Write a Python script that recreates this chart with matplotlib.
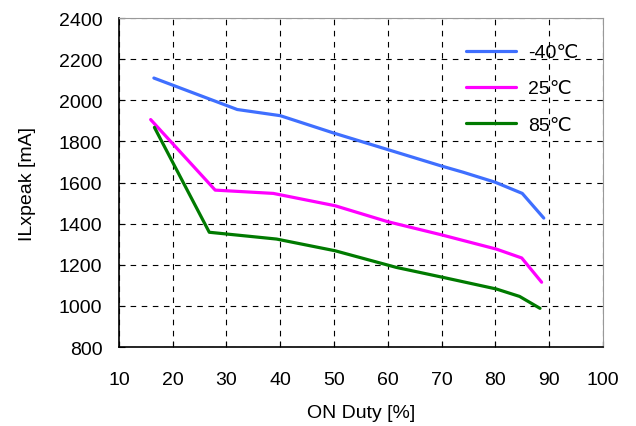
import matplotlib
matplotlib.use("Agg")
import matplotlib.pyplot as plt

plt.rcParams['font.family'] = ['Liberation Sans', 'DejaVu Sans']

# data
duty_m40 = [16.5, 32, 40, 50, 60, 70, 74, 80, 85, 89]
ilx_m40 = [2108, 1955, 1925, 1840, 1760, 1680, 1650, 1601, 1547, 1427]

duty_25 = [15.9, 27.9, 38.7, 50.2, 59.9, 69.9, 80.2, 84.9, 88.6]
ilx_25 = [1906, 1563, 1547, 1487, 1410, 1346, 1276, 1233, 1115]

duty_85 = [16.6, 26.8, 39.3, 50.2, 61.6, 70.2, 80.2, 84.5, 88.3]
ilx_85 = [1868, 1358, 1325, 1268, 1187, 1139, 1082, 1046, 988]

labels = ['-40℃', '25℃', '85℃']
colors = ['#3f6fff', '#ff00ff', '#007a00']

fig = plt.figure(figsize=(6.36, 4.27), dpi=100)
ax = fig.add_axes([0.187, 0.185, 0.761, 0.7705])

for xs, ys, lab, c in zip([duty_m40, duty_25, duty_85],
                          [ilx_m40, ilx_25, ilx_85], labels, colors):
    ax.plot(xs, ys, color=c, lw=2.3, label=lab, solid_capstyle='round')

ax.set_xlim(10, 100)
ax.set_ylim(800, 2400)
ax.set_xticks(range(10, 101, 10))
ax.set_yticks(range(800, 2401, 200))
ax.grid(True, color='black', linestyle=(0, (5, 5)), linewidth=0.8)
ax.tick_params(direction='in', length=4, labelsize=14)
ax.tick_params(axis='x', pad=17)
ax.tick_params(axis='y', pad=12)
ax.spines['left'].set_linewidth(1.2)
ax.spines['bottom'].set_linewidth(1.2)
for side in ['top', 'right']:
    ax.spines[side].set_color('#999999')
ax.set_xlabel('ON Duty [%]', fontsize=14, labelpad=12)
ax.set_ylabel('ILxpeak [mA]', fontsize=14, labelpad=16)

leg = ax.legend(loc='upper right', frameon=False, fontsize=14,
                handlelength=2.6, labelspacing=0.95, handletextpad=0.6,
                bbox_to_anchor=(0.985, 0.975))

fig.savefig('out.png', dpi=100)
